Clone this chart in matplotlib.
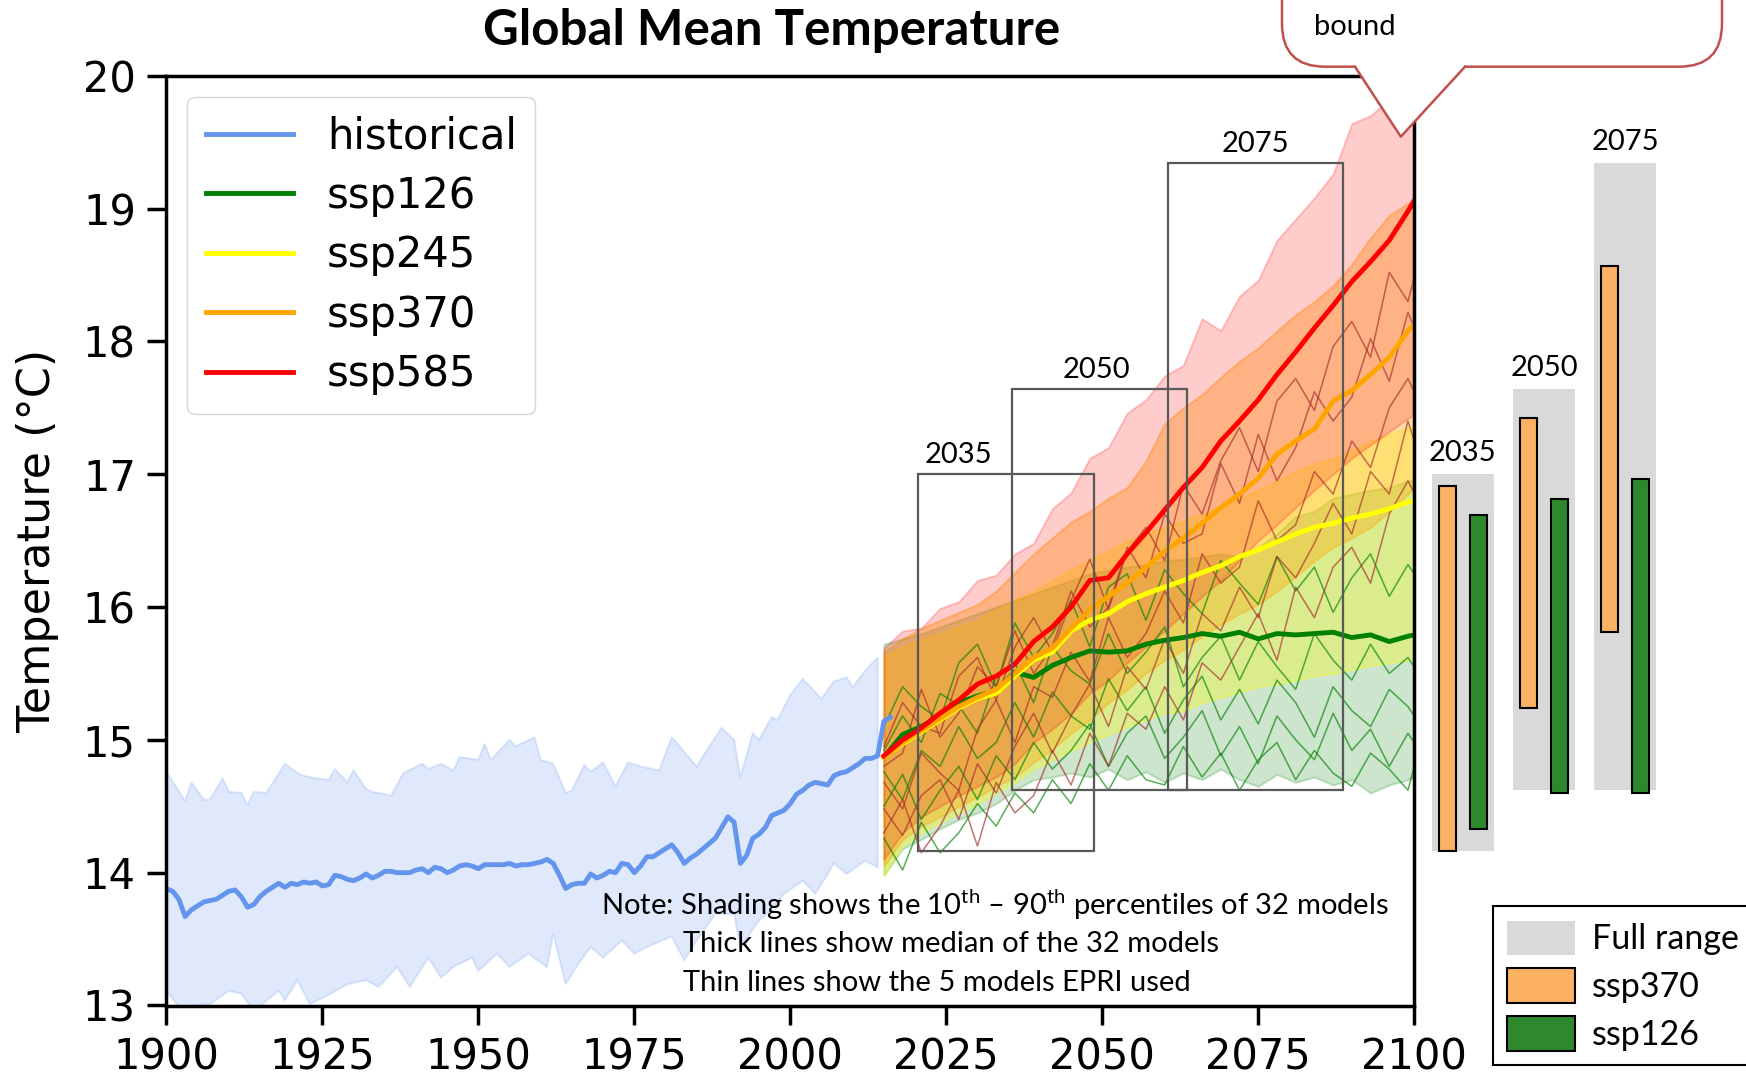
import numpy as np
import matplotlib.pyplot as plt
from matplotlib.patches import Rectangle, FancyBboxPatch, Polygon, Patch
from matplotlib.lines import Line2D
from matplotlib.transforms import IdentityTransform

plt.rcParams['mathtext.fontset'] = 'custom'
plt.rcParams['mathtext.rm'] = 'Lato'
plt.rcParams['mathtext.it'] = 'Lato:italic'
plt.rcParams['mathtext.bf'] = 'Lato:bold'

# ---- historical (median + 10th-90th band) ----
hist_years = np.arange(1900, 2017)
hist_med = [13.88, 13.86, 13.80, 13.67, 13.72, 13.75, 13.78, 13.79, 13.80, 13.83,
            13.86, 13.87, 13.82, 13.74, 13.76, 13.82, 13.86, 13.89, 13.92, 13.89,
            13.92, 13.91, 13.93, 13.92, 13.93, 13.90, 13.91, 13.98, 13.97, 13.95,
            13.94, 13.96, 13.99, 13.96, 13.98, 14.01, 14.01, 14.00, 14.00, 14.00,
            14.02, 14.03, 14.00, 14.04, 14.03, 14.00, 14.02, 14.05, 14.06, 14.05,
            14.03, 14.06, 14.06, 14.06, 14.06, 14.07, 14.05, 14.06, 14.06, 14.07,
            14.08, 14.10, 14.07, 13.98, 13.88, 13.91, 13.92, 13.92, 13.99, 13.96,
            13.98, 14.01, 14.00, 14.07, 14.06, 14.00, 14.05, 14.12, 14.12, 14.15,
            14.18, 14.21, 14.15, 14.07, 14.11, 14.14, 14.18, 14.22, 14.26, 14.34,
            14.42, 14.38, 14.07, 14.13, 14.26, 14.29, 14.34, 14.43, 14.45, 14.47,
            14.52, 14.59, 14.62, 14.66, 14.68, 14.67, 14.66, 14.73, 14.75, 14.76,
            14.79, 14.82, 14.86, 14.86, 14.88, 15.14, 15.17]

hist_hi_years = [1900, 1903, 1904, 1906, 1907, 1909, 1910, 1912, 1913, 1914,
                 1916, 1919, 1921, 1922, 1924, 1926, 1927, 1929, 1930, 1932,
                 1933, 1936, 1938, 1941, 1942, 1944, 1946, 1947, 1950, 1951,
                 1952, 1955, 1956, 1959, 1960, 1962, 1964, 1965, 1967, 1968,
                 1970, 1972, 1974, 1976, 1979, 1981, 1983, 1985, 1987, 1989,
                 1991, 1992, 1994, 1995, 1997, 1998, 2000, 2002, 2004, 2005,
                 2007, 2009, 2010, 2012, 2014]
hist_hi = [14.76, 14.54, 14.68, 14.55, 14.55, 14.71, 14.61, 14.60, 14.51, 14.61,
           14.60, 14.82, 14.75, 14.73, 14.71, 14.70, 14.78, 14.68, 14.77, 14.63,
           14.61, 14.58, 14.75, 14.82, 14.78, 14.82, 14.77, 14.87, 14.85, 14.97,
           14.85, 15.00, 14.95, 15.02, 14.85, 14.82, 14.60, 14.62, 14.81, 14.76,
           14.83, 14.65, 14.83, 14.80, 14.77, 15.02, 14.91, 14.80, 14.95, 15.09,
           15.00, 14.72, 15.05, 15.00, 15.17, 15.15, 15.34, 15.46, 15.36, 15.31,
           15.44, 15.47, 15.40, 15.52, 15.62]
hist_lo_years = [1900, 1902, 1907, 1910, 1912, 1914, 1918, 1919, 1921, 1923,
                 1926, 1929, 1932, 1934, 1937, 1939, 1942, 1944, 1946, 1949,
                 1950, 1953, 1955, 1958, 1961, 1962, 1964, 1966, 1968, 1970,
                 1973, 1975, 1977, 1981, 1983, 1985, 1988, 1991, 1992, 1995,
                 1997, 1999, 2002, 2004, 2006, 2007, 2009, 2012, 2014]
hist_lo = [13.11, 12.99, 13.01, 13.11, 13.09, 12.96, 13.11, 13.04, 13.19, 13.01,
           13.08, 13.16, 13.19, 13.14, 13.29, 13.14, 13.36, 13.21, 13.29, 13.36,
           13.26, 13.39, 13.29, 13.39, 13.29, 13.54, 13.16, 13.31, 13.44, 13.36,
           13.49, 13.39, 13.44, 13.52, 13.34, 13.49, 13.69, 13.69, 13.44, 13.64,
           13.72, 13.84, 13.94, 13.84, 13.99, 14.07, 13.99, 14.09, 14.04]

# ---- projections ----
proj_years = [2015, 2018, 2021, 2024, 2027, 2030, 2033, 2036, 2039, 2042,
              2045, 2048, 2051, 2054, 2057, 2060, 2063, 2066, 2069, 2072,
              2075, 2078, 2081, 2084, 2087, 2090, 2093, 2096, 2099, 2100]

ssp126_med = [14.87, 15.04, 15.10, 15.18, 15.28, 15.33, 15.37, 15.51, 15.47, 15.56,
              15.62, 15.67, 15.66, 15.67, 15.72, 15.75, 15.77, 15.80, 15.78, 15.81,
              15.76, 15.80, 15.79, 15.80, 15.81, 15.77, 15.79, 15.74, 15.78, 15.79]
ssp245_med = [14.87, 14.97, 15.06, 15.15, 15.24, 15.31, 15.35, 15.48, 15.60, 15.66,
              15.82, 15.90, 15.95, 16.04, 16.10, 16.15, 16.20, 16.26, 16.31, 16.38,
              16.43, 16.49, 16.55, 16.60, 16.63, 16.67, 16.70, 16.74, 16.79, 16.80]
ssp370_med = [14.87, 14.98, 15.07, 15.16, 15.25, 15.32, 15.38, 15.50, 15.62, 15.69,
              15.84, 15.98, 16.08, 16.18, 16.30, 16.42, 16.52, 16.63, 16.75, 16.85,
              16.97, 17.15, 17.25, 17.34, 17.55, 17.63, 17.75, 17.88, 18.08, 18.13]
ssp585_med = [14.88, 15.00, 15.09, 15.20, 15.30, 15.42, 15.48, 15.57, 15.74, 15.85,
              16.00, 16.20, 16.22, 16.40, 16.56, 16.73, 16.90, 17.05, 17.25, 17.40,
              17.56, 17.75, 17.92, 18.10, 18.27, 18.45, 18.60, 18.76, 18.98, 19.06]

ssp126_lo = [13.98, 14.18, 14.25, 14.33, 14.40, 14.45, 14.52, 14.62, 14.70, 14.72,
             14.75, 14.72, 14.78, 14.70, 14.76, 14.68, 14.75, 14.70, 14.78, 14.70,
             14.65, 14.74, 14.68, 14.72, 14.66, 14.70, 14.60, 14.66, 14.70, 14.72]
ssp126_hi = [15.72, 15.76, 15.80, 15.85, 15.90, 15.95, 16.00, 16.05, 16.10, 16.15,
             16.20, 16.25, 16.28, 16.30, 16.32, 16.35, 16.36, 16.38, 16.40, 16.38,
             16.45, 16.55, 16.68, 16.72, 16.82, 16.85, 16.88, 16.90, 16.95, 16.96]
ssp245_lo = [13.98, 14.20, 14.30, 14.38, 14.45, 14.52, 14.60, 14.68, 14.78, 14.85,
             14.92, 14.98, 15.04, 15.10, 15.15, 15.20, 15.22, 15.28, 15.32, 15.36,
             15.40, 15.42, 15.45, 15.48, 15.50, 15.53, 15.56, 15.58, 15.60, 15.62]
ssp245_hi = [15.62, 15.70, 15.75, 15.80, 15.85, 15.90, 15.98, 16.05, 16.12, 16.20,
             16.28, 16.35, 16.42, 16.50, 16.55, 16.60, 16.65, 16.70, 16.76, 16.82,
             16.88, 16.95, 17.02, 17.08, 17.12, 17.18, 17.25, 17.30, 17.35, 17.36]
ssp370_lo = [14.05, 14.25, 14.35, 14.42, 14.50, 14.57, 14.65, 14.72, 14.83, 14.93,
             15.05, 15.15, 15.28, 15.38, 15.50, 15.60, 15.68, 15.78, 15.87, 15.95,
             16.02, 16.12, 16.23, 16.35, 16.45, 16.52, 16.60, 16.72, 16.85, 16.90]
ssp370_hi = [15.66, 15.76, 15.84, 15.90, 15.96, 16.02, 16.12, 16.26, 16.40, 16.52,
             16.64, 16.72, 16.82, 16.90, 17.10, 17.38, 17.50, 17.60, 17.73, 17.85,
             17.95, 18.08, 18.20, 18.30, 18.42, 18.58, 18.78, 18.95, 19.04, 19.05]
ssp585_lo = [14.10, 14.30, 14.42, 14.50, 14.58, 14.65, 14.72, 14.82, 14.98, 15.08,
             15.20, 15.35, 15.45, 15.58, 15.70, 15.82, 15.95, 16.08, 16.20, 16.35,
             16.50, 16.62, 16.75, 16.88, 17.00, 17.12, 17.22, 17.32, 17.42, 17.45]
ssp585_hi = [15.69, 15.82, 15.84, 15.99, 16.04, 16.20, 16.24, 16.40, 16.48, 16.74,
             16.86, 17.12, 17.20, 17.46, 17.56, 17.74, 17.82, 18.17, 18.08, 18.34,
             18.46, 18.76, 18.92, 19.08, 19.26, 19.64, 19.70, 19.82, 19.80, 19.78]

# the 5 models EPRI used (thin lines)
ssp370_models = [
    [14.95, 15.28, 15.10, 15.05, 15.48, 15.62, 15.30, 15.70, 15.92, 15.66,
     16.05, 16.36, 15.98, 16.42, 16.60, 16.35, 16.92, 16.70, 17.10, 17.35,
     17.02, 17.55, 17.72, 17.48, 17.96, 18.15, 17.88, 18.52, 18.30, 18.48],
    [14.80, 14.90, 15.38, 15.02, 15.20, 15.55, 15.40, 15.82, 15.50, 15.70,
     16.12, 15.85, 16.00, 16.45, 16.22, 16.70, 16.48, 16.55, 17.08, 16.78,
     17.30, 16.95, 17.20, 17.62, 17.40, 17.58, 18.02, 17.70, 18.22, 18.10],
    [14.68, 14.48, 14.90, 14.75, 14.62, 15.08, 15.30, 14.98, 15.40, 15.32,
     15.66, 15.44, 15.92, 15.62, 15.80, 16.12, 15.88, 16.40, 16.18, 16.30,
     16.80, 16.50, 16.62, 17.02, 16.85, 17.25, 17.05, 17.50, 17.72, 17.62],
    [14.48, 14.28, 14.58, 14.70, 14.40, 14.82, 14.60, 14.95, 15.20, 14.90,
     15.18, 15.42, 15.10, 15.55, 15.38, 15.76, 15.50, 15.95, 15.82, 16.15,
     15.92, 16.38, 16.22, 16.48, 16.78, 16.55, 17.02, 16.85, 17.40, 17.25],
    [14.30, 14.55, 14.15, 14.35, 14.62, 14.20, 14.68, 14.45, 14.58, 14.92,
     14.66, 15.05, 14.80, 15.20, 15.08, 15.40, 15.15, 15.58, 15.45, 15.70,
     15.95, 15.60, 16.15, 15.92, 16.30, 16.45, 16.18, 16.70, 16.95, 16.86],
]
ssp126_models = [
    [15.10, 15.40, 15.25, 15.15, 15.58, 15.72, 15.40, 15.88, 15.62, 15.80,
     16.05, 15.70, 16.15, 16.25, 15.90, 16.28, 16.10, 15.95, 16.35, 16.18,
     16.02, 16.38, 16.12, 16.30, 15.96, 16.22, 16.40, 16.08, 16.32, 16.25],
    [14.92, 15.18, 14.98, 15.35, 15.26, 15.05, 15.48, 15.58, 15.28, 15.70,
     15.52, 15.42, 15.80, 15.50, 15.66, 15.85, 15.40, 15.62, 15.78, 15.45,
     15.74, 15.55, 15.38, 15.80, 15.60, 15.45, 15.72, 15.50, 15.62, 15.55],
    [14.76, 14.55, 14.92, 14.80, 15.10, 14.86, 14.98, 15.28, 15.02, 15.36,
     15.18, 15.08, 15.46, 15.22, 15.40, 15.05, 15.30, 15.48, 15.15, 15.38,
     15.12, 15.45, 15.28, 15.02, 15.40, 15.22, 15.10, 15.38, 15.25, 15.18],
    [14.50, 14.74, 14.40, 14.62, 14.80, 14.55, 14.88, 14.70, 14.98, 14.78,
     14.92, 15.12, 14.80, 15.05, 15.18, 14.86, 15.02, 15.22, 14.88, 15.10,
     14.82, 15.18, 15.00, 14.85, 15.20, 14.92, 15.08, 14.80, 15.05, 14.98],
    [14.26, 14.02, 14.38, 14.15, 14.30, 14.52, 14.35, 14.60, 14.45, 14.70,
     14.52, 14.82, 14.62, 14.88, 14.70, 14.66, 14.95, 14.72, 14.90, 14.62,
     14.85, 14.98, 14.70, 14.92, 14.75, 14.65, 14.90, 14.78, 14.62, 14.80],
]

# ---- 30-year windows ----
period_labels = ['2035', '2050', '2075']
period_centers = [2035, 2050, 2075]
full_lo = [14.16, 14.62, 14.62]
full_hi = [17.00, 17.64, 19.34]
win370_lo = [14.16, 15.24, 15.81]
win370_hi = [16.91, 17.42, 18.57]
win126_lo = [14.33, 14.60, 14.60]
win126_hi = [16.69, 16.81, 16.96]

W, H = 1746, 1075
fig = plt.figure(figsize=(W / 100, H / 100), dpi=100)
ax = fig.add_axes([166.4 / W, 1 - 1005.5 / H, 1247.8 / W, 929.8 / H])

# bands
ax.fill(np.concatenate([hist_hi_years, hist_lo_years[::-1]]),
        np.concatenate([hist_hi, hist_lo[::-1]]),
        facecolor='cornflowerblue', edgecolor='cornflowerblue', alpha=0.2, lw=1.5)
ax.fill_between(proj_years, ssp126_lo, ssp126_hi, color='green', alpha=0.2, lw=1.5)
ax.fill_between(proj_years, ssp245_lo, ssp245_hi, color='yellow', alpha=0.3, lw=1.5)
ax.fill_between(proj_years, ssp370_lo, ssp370_hi, color='orange', alpha=0.35, lw=1.5)
ax.fill_between(proj_years, ssp585_lo, ssp585_hi, color='red', alpha=0.2, lw=1.5)

# thin model lines
for m in ssp126_models:
    ax.plot(proj_years, m, color='green', lw=1.1, alpha=0.65)
for m in ssp370_models:
    ax.plot(proj_years, m, color='brown', lw=1.1, alpha=0.65)

# medians
ax.plot(hist_years, hist_med, color='cornflowerblue', lw=3.5, label='historical')
ax.plot(proj_years, ssp126_med, color='green', lw=3.5, label='ssp126')
ax.plot(proj_years, ssp245_med, color='yellow', lw=3.5, label='ssp245')
ax.plot(proj_years, ssp370_med, color='orange', lw=3.5, label='ssp370')
ax.plot(proj_years, ssp585_med, color='red', lw=3.5, label='ssp585')

# window boxes
label_x = [2027, 2049, 2074.5]
for c, lo, hi, lab, lx in zip(period_centers, full_lo, full_hi, period_labels, label_x):
    ax.add_patch(Rectangle((c - 14.5, lo), 28.1, hi - lo, fill=False,
                           edgecolor='#595959', lw=1.6, zorder=6))
    ax.text(lx, hi + 0.05, lab, ha='center', va='bottom', fontsize=21,
            family='Lato', zorder=6)

ax.set_xlim(1900, 2100)
ax.set_ylim(13, 20)
ax.set_xticks(range(1900, 2101, 25))
ax.set_yticks(range(13, 21))
ax.tick_params(labelsize=30, width=2.5, length=14, pad=8)
for s in ax.spines.values():
    s.set_linewidth(2.5)

leg = ax.legend(loc='upper left', fontsize=30, handlelength=2.1, labelspacing=0.42,
                borderpad=0.45)
for h in leg.get_lines():
    h.set_linewidth(3.5)

fig.text(0.0215, 0.497, 'Temperature (°C)', rotation=90, ha='center', va='center',
         fontsize=32)
fig.text(0.442, 0.972, 'Global Mean Temperature', ha='center', va='center',
         fontsize=35.5, fontweight='bold', family='Lato')

note_kw = dict(fontsize=21, family='Lato', va='center')
fig.text(0.344, 0.158, r'Note: Shading shows the 10$^{\mathrm{th}}$ – 90$^{\mathrm{th}}$ percentiles of 32 models', **note_kw)
fig.text(0.391, 0.122, 'Thick lines show median of the 32 models', **note_kw)
fig.text(0.391, 0.0853, 'Thin lines show the 5 models EPRI used', **note_kw)

# ---- right panel: window ranges ----
ax2 = fig.add_axes([1405 / W, 1 - 1005.5 / H, 341 / W, 929.8 / H])
xg = np.arange(len(period_labels))
ax2.bar(xg, np.subtract(full_hi, full_lo), bottom=full_lo, width=0.77, color='#d9d9d9')
ax2.bar(xg - 0.19, np.subtract(win370_hi, win370_lo), bottom=win370_lo, width=0.21,
        color='#fbb062', edgecolor='black', lw=1.5)
ax2.bar(xg + 0.19, np.subtract(win126_hi, win126_lo), bottom=win126_lo, width=0.21,
        color='#2e892e', edgecolor='black', lw=1.5)
for x, hi, lab in zip(xg, full_hi, period_labels):
    ax2.text(x, hi + 0.06, lab, ha='center', va='bottom', fontsize=21, family='Lato')
ax2.set_xlim(-0.715, 3.494)
ax2.set_ylim(13, 20)
ax2.axis('off')

handles = [Patch(facecolor='#d9d9d9', edgecolor='none'),
           Patch(facecolor='#fbb062', edgecolor='black', lw=1.5),
           Patch(facecolor='#2e892e', edgecolor='black', lw=1.5)]
leg2 = fig.legend(handles, ['Full range', 'ssp370', 'ssp126'], loc='upper left',
                  bbox_to_anchor=(0.855, 0.157), borderaxespad=0,
                  prop={'family': 'Lato', 'size': 24.5},
                  fancybox=False, edgecolor='black', framealpha=1,
                  handlelength=2.0, handleheight=1.2, labelspacing=0.38,
                  borderpad=0.42, handletextpad=0.5)
leg2.get_frame().set_linewidth(1.5)

# ---- callout ----
red = '#c0504d'
box = FancyBboxPatch((1282, H - 66.7), 440, 150,
                     boxstyle='round,pad=0,rounding_size=43',
                     transform=IdentityTransform(), facecolor='white',
                     edgecolor=red, lw=1.8, zorder=10)
fig.add_artist(box)
tip = (1400.8, H - 136.7)
fig.add_artist(Polygon([(1356, H - 64), (1356, H - 66.7), tip, (1464, H - 66.7), (1464, H - 64)],
                       closed=True, transform=IdentityTransform(), facecolor='white',
                       edgecolor='none', zorder=11))
fig.add_artist(Line2D([1355, tip[0], 1465], [H - 66.7, tip[1], H - 66.7],
                      transform=IdentityTransform(), color=red, lw=1.8, zorder=12))
fig.text(1314 / W, 1 - 26.7 / H, 'bound', fontsize=21, family='Lato', va='center',
         zorder=13)

fig.savefig('out.png', dpi=100)
